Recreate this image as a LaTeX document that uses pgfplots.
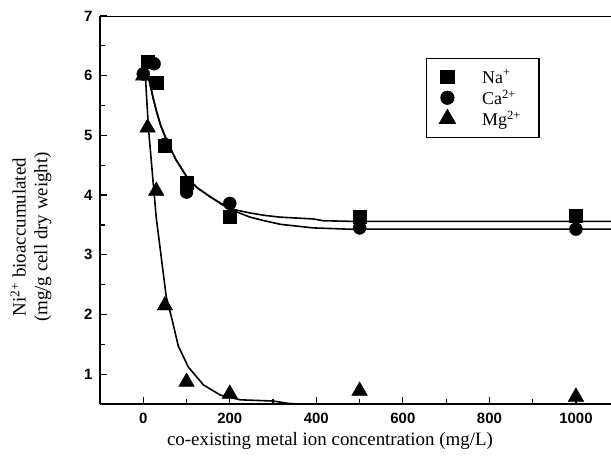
\documentclass[border=0pt]{standalone}
\usepackage{fontspec}
\setmainfont{Liberation Serif}
\setsansfont{Liberation Sans}
\usepackage{pgfplots}
\pgfplotsset{compat=1.18}
\begin{document}
\begin{tikzpicture}
\useasboundingbox (0,0) rectangle (611bp,459bp);
\begin{axis}[
  at={(100bp,55bp)}, anchor=south west,
  scale only axis, width=511bp, height=388bp,
  xmin=-100, xmax=1081, ymin=0.5, ymax=7,
  axis x line*=bottom, axis y line*=left,
  axis line style={-, line width=1.6pt},
  tick align=inside,
  xtick={0,200,400,600,800,1000},
  minor xtick={100,300,500,700,900},
  ytick={1,2,3,4,5,6,7},
  minor ytick={1.5,2.5,3.5,4.5,5.5,6.5},
  major tick length=7bp, minor tick length=5bp,
  every tick/.style={black, line width=1.2pt},
  tick label style={font=\fontsize{15}{17}\sffamily\bfseries},
  /pgf/number format/assume math mode=true,
  /pgf/number format/1000 sep={},
  x tick label style={yshift=-6bp},
  y tick label style={xshift=-4bp},
  legend image code/.code={\draw[#1] plot coordinates {(0bp,0bp)};},
  legend style={at={(0.638,0.891)}, anchor=north west, draw=black, line width=1.2pt,
    inner xsep=13bp, inner ysep=10bp, row sep=3bp,
    nodes={inner ysep=1bp, inner xsep=5bp},
    /tikz/every odd column/.append style={column sep=22bp},
    font=\fontsize{18}{20}\selectfont},
  legend cell align=left,
]
\addplot[only marks, mark=square*, mark size=6.5bp, black] coordinates {
 (10,6.23) (30,5.88) (50,4.83) (100,4.2) (200,3.63) (500,3.63) (1000,3.66)};
\addlegendentry{Na\textsuperscript{+}}
\addplot[only marks, mark=*, mark size=6.5bp, black] coordinates {
 (0,6.03) (25,6.2) (50,4.85) (100,4.05) (200,3.86) (500,3.45) (1000,3.43)};
\addlegendentry{Ca\textsuperscript{2+}}
\addplot[only marks, mark=triangle*, mark size=9bp, black] coordinates {
 (0,6.0) (10,5.13) (30,4.07) (50,2.15) (100,0.87) (200,0.67) (500,0.72) (1000,0.62)};
\addlegendentry{Mg\textsuperscript{2+}}
\addplot[black, line width=1.6pt, forget plot] coordinates {
 (8,6.1) (15,5.88) (23,5.62) (30,5.42) (40,5.17) (55,4.9) (75,4.6) (101,4.3) (125,4.12)
 (155,3.97) (180,3.86) (208,3.76) (247,3.70) (280,3.66) (317,3.63) (393,3.60) (416,3.57)
 (480,3.56) (1081,3.56)};
\addplot[black, line width=1.6pt, forget plot] coordinates {
 (8,6.1) (15,5.88) (23,5.62) (30,5.42) (40,5.17) (55,4.9) (75,4.6) (101,4.3) (125,4.12)
 (155,3.97) (180,3.85) (208,3.74) (247,3.63) (280,3.57) (317,3.51) (393,3.45) (470,3.43)
 (1081,3.43)};
\addplot[black, line width=1.6pt, forget plot] coordinates {
 (5,6.0) (8,5.6) (12,5.12) (18,4.62) (23,4.2) (30,3.62) (40,3.05) (53,2.3) (67,1.9)
 (81,1.47) (104,1.12) (139,0.82) (178,0.65) (224,0.57) (300,0.55) (335,0.51) (360,0.5)
 (1081,0.5)};
\draw[line width=1.6pt] (rel axis cs:0,1) -- (rel axis cs:1,1);
\end{axis}
\node[rotate=90, align=center, font=\fontsize{19}{22}\selectfont] at (31bp,222bp)
  {Ni\textsuperscript{2+} bioaccumulated\\(mg/g cell dry weight)};
\node[font=\fontsize{19}{22}\selectfont] at (330bp,18bp)
  {co-existing metal ion concentration (mg/L)};
\end{tikzpicture}
\end{document}
